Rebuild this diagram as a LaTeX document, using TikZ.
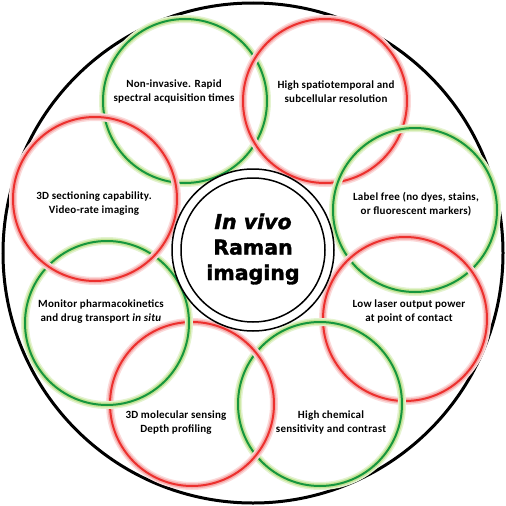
\documentclass[tikz,border=0pt]{standalone}
\usepackage{fontspec}
\usepackage{tikz}
\setmainfont{Carlito}
\newfontfamily\petalfont[LetterSpace=2]{Carlito}
\newfontfamily\titlefont[BoldFeatures={FakeBold=1.6},BoldItalicFeatures={FakeBold=1.6}]{DejaVu Sans}
\definecolor{ringgreen}{RGB}{22,150,62}
\definecolor{glowgreen}{RGB}{196,228,150}
\definecolor{ringred}{RGB}{236,48,46}
\definecolor{glowred}{RGB}{246,172,172}

\begin{document}
\begin{tikzpicture}[x=1pt,y=-1pt,
	greenring/.style={draw=ringgreen,line width=2pt,
		preaction={draw=glowgreen!45,line width=8pt},
		preaction={draw=glowgreen,line width=5pt}},
	redring/.style={draw=ringred,line width=2pt,
		preaction={draw=glowred!45,line width=8pt},
		preaction={draw=glowred,line width=5pt}},
	petaltext/.style={align=center,font=\petalfont\bfseries\fontsize{11}{14}\selectfont,inner sep=0pt}]
	\useasboundingbox (0,0) rectangle (506,506);

	%Outer circle
	\draw [line width=3pt] (253,253) circle [radius=250];

	%Petals
	\draw [greenring] (185,101) circle [radius=82];
	\draw [redring] (325,101) circle [radius=82];
	\draw [greenring] (415,210) circle [radius=82];
	\draw [redring] (405,319) circle [radius=82];
	\draw [greenring] (320,404) circle [radius=82];
	\draw [redring] (192,404) circle [radius=82];
	\draw [greenring] (107,323) circle [radius=82];
	\draw [redring] (95,199) circle [radius=82];

	%Centre
	\draw [line width=1.5pt,fill=white] (253,250) circle [radius=81];
	\draw [line width=1.5pt] (253,250) circle [radius=72];
	\node [align=center,font=\titlefont\bfseries\fontsize{20.5}{25.5}\selectfont] (invivo) at (253,249)
		{\itshape In vivo\\Raman\\imaging};

	%Texts
	\node [petaltext] (noninvasive) at (174,92) {Non-invasive. Rapid\\spectral acquisition times};
	\node [petaltext] (spatiotemporal) at (336,92) {High spatiotemporal and\\subcellular resolution};
	\node [petaltext] (labelfree) at (416,204) {Label free (no dyes, stains,\\or fluorescent markers)};
	\node [petaltext] (lowpower) at (409,312) {Low laser output power\\at point of contact};
	\node [petaltext] (chemical) at (331,423) {High chemical\\sensitivity and contrast};
	\node [petaltext] (molecular) at (176,423) {3D molecular sensing\\Depth profiling};
	\node [petaltext] (pharmaco) at (101,312) {Monitor pharmacokinetics\\and drug transport \textit{in situ}};
	\node [petaltext] (sectioning) at (94,204) {3D sectioning capability.\\Video-rate imaging};
\end{tikzpicture}
\end{document}
